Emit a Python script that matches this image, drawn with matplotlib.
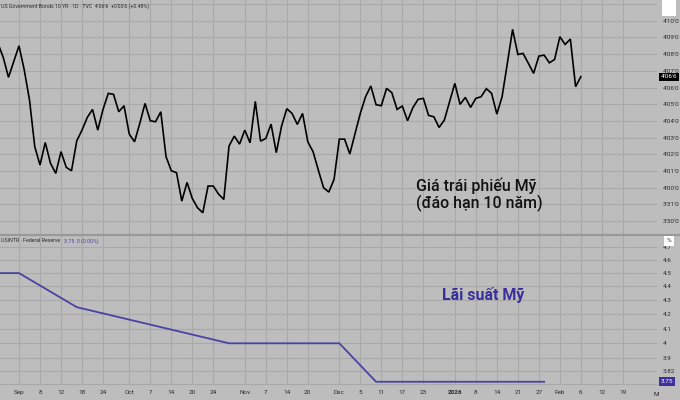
import numpy as np
import matplotlib
matplotlib.use("Agg")
import matplotlib.pyplot as plt
from matplotlib.lines import Line2D
from matplotlib.ticker import FixedLocator, NullLocator

plt.rcParams['font.family'] = ['Roboto', 'DejaVu Sans']

# 10Y bond, daily closes in 32nds (4'06'0 -> 134), first bar is 4 sessions before Sep 2
bond_start = -4
bond = [136.64, 135.80, 134.61, 135.56, 136.50, 135.05, 133.25, 130.46, 129.36, 130.71,
        129.46, 128.86, 130.16, 129.22, 129.02, 130.81, 131.45, 132.21, 132.69, 131.45,
        132.69, 133.65, 133.59, 132.55, 132.91, 131.21, 130.75, 131.85, 133.05, 132.01,
        131.95, 132.55, 129.86, 129.02, 128.90, 127.20, 128.32, 127.36, 126.80, 126.50,
        128.10, 128.10, 127.62, 127.30, 130.50, 131.09, 130.61, 131.45, 130.69, 133.17,
        130.79, 130.95, 131.81, 130.10, 131.69, 132.73, 132.45, 131.79, 132.45, 130.75,
        130.16, 129.06, 128.00, 127.74, 128.50, 130.91, 130.91, 130.02, 131.25, 132.45,
        133.45, 134.09, 132.97, 132.91, 133.95, 133.69, 132.69, 132.89, 132.01, 132.79,
        133.29, 133.35, 132.33, 132.25, 131.61, 132.05, 133.15, 134.25, 132.99, 133.41,
        132.81, 133.35, 133.45, 133.93, 133.65, 132.41, 133.45, 135.45, 137.48, 135.98,
        136.04, 135.45, 134.85, 135.88, 135.94, 135.48, 135.68, 137.04, 136.58, 136.90,
        134.05, 134.65]

# Fed funds rate (USINTR) points, session index and %
rate_idx = [-4, 0, 11, 40, 61, 68, 100]
rate_vals = [4.5, 4.5, 4.25, 4.0, 4.0, 3.75, 3.75]

# x axis labels (session index from Sep 2, 2025)
tick_idx = [0, 4, 8, 12, 16, 21, 25, 29, 33, 37, 43, 47, 51, 55, 61, 65, 69, 73, 77,
            83, 87, 91, 95, 99, 103, 107, 111, 115]
tick_lbl = ['Sep', '8', '12', '18', '24', 'Oct', '7', '14', '20', '24', 'Nov', '7', '14',
            '20', 'Dec', '5', '11', '17', '23', '2026', '8', '14', '21', '27', 'Feb', '6',
            '12', '19']

price_ticks = list(range(126, 140))
rate_ticks = [3.82, 3.9, 4.0, 4.1, 4.2, 4.3, 4.4, 4.5, 4.6, 4.7]
rate_lbls = ['3.82', '3.9', '4', '4.1', '4.2', '4.3', '4.4', '4.5', '4.6', '4.7']

bg = '#bdbdbd'
grid_c = '#a9a9a9'
txt_c = '#2b2b2b'
purple = '#3b2f9e'
W, H = 680, 400


def fmt32(v):
    return "%d'%02d'0" % (v // 32, v % 32)


fig = plt.figure(figsize=(6.8, 4.0), dpi=100, facecolor=bg)
ax1 = fig.add_axes([0, 1 - 234 / H, 657 / W, 234 / H], facecolor=bg)
ax2 = fig.add_axes([0, 1 - 384 / H, 657 / W, 148 / H], facecolor=bg)

xlim = (-3.62, 121.5)

# top panel
x_bond = np.arange(bond_start, bond_start + len(bond))
ax1.plot(x_bond, bond, color='black', lw=1.2, solid_joinstyle='miter', zorder=3)
ax1.set_xlim(*xlim)
ax1.set_ylim(125.23, 139.24)
ax1.set_yticks(price_ticks)
ax1.set_yticklabels([fmt32(t) if t < 139 else '' for t in price_ticks])
ax1.set_xticks(tick_idx)
ax1.set_xticklabels([])

# lower panel
ax2.plot(rate_idx, rate_vals, color='#4b43a3', lw=1.3, zorder=3)
ax2.set_yscale('log')
ax2.set_xlim(*xlim)
ax2.set_ylim(3.736, 4.789)
ax2.yaxis.set_major_locator(FixedLocator(rate_ticks))
ax2.yaxis.set_minor_locator(NullLocator())
ax2.set_yticklabels(rate_lbls)
ax2.set_xticks(tick_idx)
ax2.set_xticklabels(tick_lbl)

for ax in (ax1, ax2):
    for s in ax.spines.values():
        s.set_visible(False)
    ax.yaxis.tick_right()
    ax.tick_params(axis='both', length=0, labelsize=4.6, colors=txt_c)
    ax.tick_params(axis='y', pad=4)
    ax.tick_params(axis='x', pad=4)
    ax.grid(True, color=grid_c, lw=0.8)
    ax.set_axisbelow(True)

for lbl in ax2.get_xticklabels():
    if lbl.get_text() == '2026':
        lbl.set_fontweight('bold')

# panel divider and bottom line
fig.add_artist(Line2D([0, 1], [1 - 235 / H, 1 - 235 / H], color='#999999', lw=1.6))
fig.add_artist(Line2D([0, 657 / W], [1 - 384 / H, 1 - 384 / H], color='#a9a9a9', lw=0.8))

# price scale boxes
ax1.text(1.006, bond[-1], "4'06'6", transform=ax1.get_yaxis_transform(), fontsize=4.6,
         color='white', va='center', ha='left',
         bbox=dict(boxstyle='square,pad=0.25', fc='black', ec='none'))
ax2.text(1.006, 3.75, '3.75', transform=ax2.get_yaxis_transform(), fontsize=4.6,
         color='white', va='center', ha='left',
         bbox=dict(boxstyle='square,pad=0.3', fc=purple, ec='none'))
fig.text(669 / W, 1 - 6 / H, ' ', fontsize=5, va='center', ha='center',
         bbox=dict(boxstyle='square,pad=0.9', fc='white', ec='none'))
fig.text(669 / W, 1 - 241 / H, '%', fontsize=4.6, color=txt_c, va='center', ha='center',
         bbox=dict(boxstyle='square,pad=0.35', fc='white', ec='none'))
fig.text(656 / W, 1 - 395 / H, 'M', fontsize=4.6, color=txt_c, va='center', ha='center')

# headers
fig.text(1 / W, 1 - 6 / H, "US Government Bonds 10 YR · 1D · TVC  4'06'6  +0'00'6 (+0.48%)",
         fontsize=3.8, color=txt_c, va='center', ha='left')
hdr = fig.text(1 / W, 1 - 241 / H, 'USINTR · Federal Reserve', fontsize=3.8, color=txt_c,
               va='center', ha='left')
fig.canvas.draw()
hdr_end = hdr.get_window_extent().x1
fig.text((hdr_end + 4) / W, 1 - 241 / H, '3.75  0 (0.00%)', fontsize=3.8, color='#4b43a3',
         va='center', ha='left')

# annotations
fig.text(416 / W, 1 - 186 / H, 'Giá trái phiếu Mỹ', fontsize=11.4, fontweight='medium',
         color='#111111', va='center', ha='left')
fig.text(416 / W, 1 - 203 / H, '(đáo hạn 10 năm)', fontsize=11.4, fontweight='medium',
         color='#111111', va='center', ha='left')
fig.text(442 / W, 1 - 295 / H, 'Lãi suất Mỹ', fontsize=11.5, fontweight='bold',
         color=purple, va='center', ha='left')

fig.savefig('out.png', dpi=100, facecolor=bg)
